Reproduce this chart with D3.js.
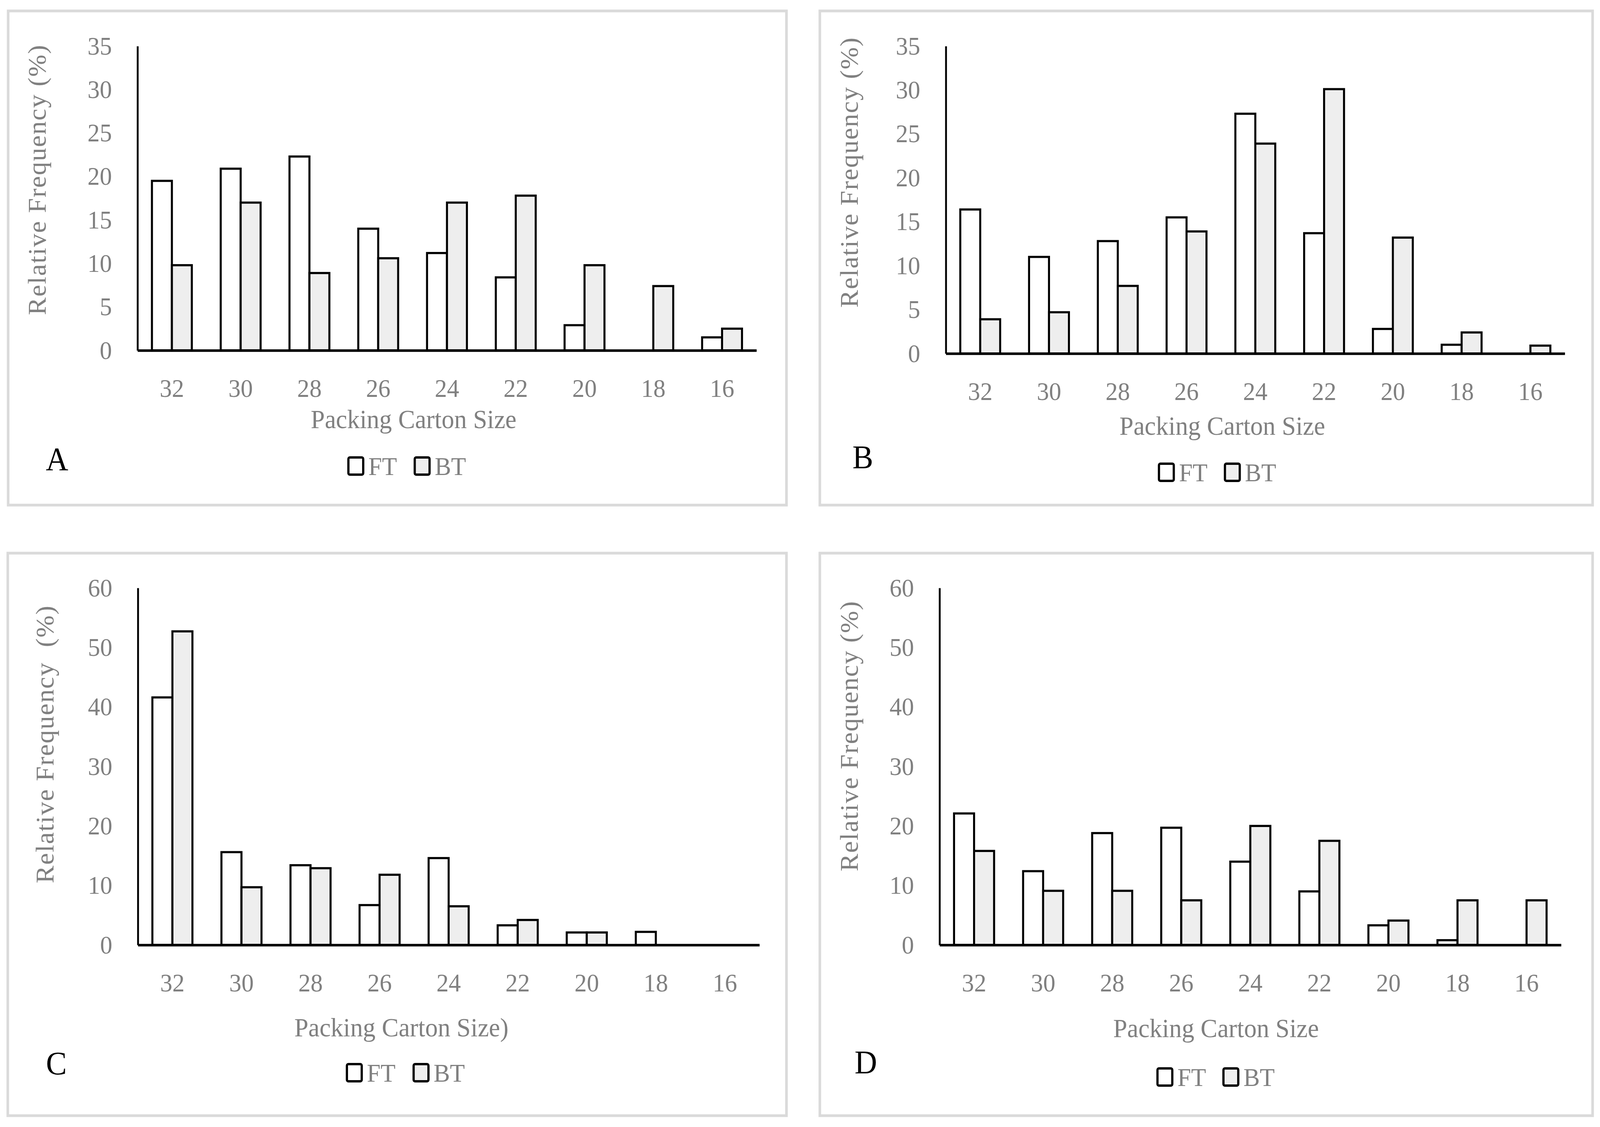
<!DOCTYPE html>
<html>
<head>
<meta charset="utf-8">
<script src="https://cdn.jsdelivr.net/npm/d3@7"></script>
<style>
  html, body { margin: 0; padding: 0; background: #fff; overflow: hidden; }
  svg { display: block; width: 100vw; height: 100vh; }
  text { font-family: "Liberation Serif", "DejaVu Serif", serif; }
</style>
</head>
<body>
<div id="chart"></div>
<script>
// carton sizes on the x axis
var sizes = ["32", "30", "28", "26", "24", "22", "20", "18", "16"];
var seriesNames = ["FT", "BT"];

// relative frequency (%) per panel
var ftA = [19.5, 20.9, 22.3, 14.0, 11.2, 8.4, 2.9, 0, 1.5];
var btA = [9.8, 17.0, 8.9, 10.6, 17.0, 17.8, 9.8, 7.4, 2.5];

var ftB = [16.4, 11.0, 12.8, 15.5, 27.3, 13.7, 2.8, 1.0, 0];
var btB = [3.9, 4.7, 7.7, 13.9, 23.9, 30.1, 13.2, 2.4, 0.9];

var ftC = [41.6, 15.6, 13.4, 6.7, 14.6, 3.3, 2.1, 2.2, 0];
var btC = [52.7, 9.7, 12.9, 11.8, 6.5, 4.2, 2.1, 0, 0];

var ftD = [22.1, 12.4, 18.8, 19.7, 14.0, 9.0, 3.3, 0.8, 0];
var btD = [15.8, 9.1, 9.1, 7.5, 20.0, 17.5, 4.1, 7.5, 7.5];

var ticksAB = [0, 5, 10, 15, 20, 25, 30, 35];
var ticksCD = [0, 10, 20, 30, 40, 50, 60];

var yTitleAB = "Relative Frequency (%)";
var yTitleC = "Relative Frequency  (%)";
var xTitleABD = "Packing Carton Size";
var xTitleC = "Packing Carton Size)";

var W = 4317, H = 2885;
var grey = "#808080";
var fills = { FT: "#ffffff", BT: "#eeeeee" };

var panels = [
  { letter: "A", ft: ftA, bt: btA, ticks: ticksAB, yTitle: yTitleAB, xTitle: xTitleABD,
    box: [22, 28, 2122, 1293], x0: 371, x1: 2041, yTop: 118, yBase: 897,
    yt: [99, 460], xt: [1116, 1076], lt: [154, 1175], lg: [940, 1119, 1193] },
  { letter: "B", ft: ftB, bt: btB, ticks: ticksAB, yTitle: yTitleAB, xTitle: xTitleABD,
    box: [2212, 28, 4297, 1293], x0: 2552, x1: 4222, yTop: 118, yBase: 905,
    yt: [2291, 441], xt: [3298, 1093], lt: [2328, 1170], lg: [3127, 3305, 1209] },
  { letter: "C", ft: ftC, bt: btC, ticks: ticksCD, yTitle: yTitleC, xTitle: xTitleC,
    box: [21, 1416, 2122, 2856], x0: 372, x1: 2049, yTop: 1505, yBase: 2419,
    yt: [121, 1905], xt: [1083, 2633], lt: [152, 2722], lg: [936, 1116, 2746] },
  { letter: "D", ft: ftD, bt: btD, ticks: ticksCD, yTitle: yTitleAB, xTitle: xTitleABD,
    box: [2212, 1416, 4297, 2856], x0: 2535, x1: 4212, yTop: 1505, yBase: 2419,
    yt: [2291, 1884], xt: [3281, 2635], lt: [2336, 2719], lg: [3123, 3301, 2757] }
];

// the drawing is laid out in 4317x2885 units and scaled to the window
var svg = d3.select("#chart").append("svg")
  .attr("viewBox", "0 0 " + W + " " + H)
  .attr("preserveAspectRatio", "none");

svg.append("rect").attr("width", W).attr("height", H).attr("fill", "#fff");

panels.forEach(function(p) {
  var g = svg.append("g");

  // panel frame
  g.append("rect")
    .attr("x", p.box[0]).attr("y", p.box[1])
    .attr("width", p.box[2] - p.box[0]).attr("height", p.box[3] - p.box[1])
    .attr("fill", "none")
    .attr("stroke", "#dadada")
    .attr("stroke-width", 7);

  var x = d3.scaleBand()
    .domain(sizes)
    .range([p.x0, p.x1])
    .paddingInner(0.42)
    .paddingOuter(0.21);

  var xSub = d3.scaleBand()
    .domain(seriesNames)
    .range([0, x.bandwidth()]);

  var y = d3.scaleLinear()
    .domain([0, d3.max(p.ticks)])
    .range([p.yBase, p.yTop]);

  var rows = sizes.map(function(s, i) {
    return { size: s, FT: p.ft[i], BT: p.bt[i] };
  });

  // bars
  var groups = g.append("g").selectAll("g")
    .data(rows)
    .enter().append("g")
    .attr("transform", function(d) { return "translate(" + x(d.size) + ",0)"; });

  groups.selectAll("rect")
    .data(function(d) {
      return seriesNames
        .map(function(k) { return { key: k, value: d[k] }; })
        .filter(function(e) { return e.value > 0; });
    })
    .enter().append("rect")
    .attr("x", function(d) { return xSub(d.key); })
    .attr("width", xSub.bandwidth())
    .attr("y", function(d) { return y(d.value); })
    .attr("height", function(d) { return y(0) - y(d.value); })
    .attr("fill", function(d) { return fills[d.key]; })
    .attr("stroke", "#000")
    .attr("stroke-width", 5.5);

  // y axis
  var yAxis = g.append("g")
    .attr("transform", "translate(" + p.x0 + ",0)")
    .call(d3.axisLeft(y).tickValues(p.ticks).tickSize(0).tickPadding(69));
  yAxis.select(".domain").attr("stroke", "#000").attr("stroke-width", 5);
  yAxis.selectAll("text")
    .attr("fill", grey)
    .style("font-size", "66px")
    .style("font-family", "Liberation Serif, serif");

  // x axis
  var xAxis = g.append("g")
    .attr("transform", "translate(0," + p.yBase + ")")
    .call(d3.axisBottom(x).tickSize(0).tickPadding(72));
  xAxis.select(".domain").attr("stroke", "#000").attr("stroke-width", 6.5);
  xAxis.selectAll("text")
    .attr("fill", grey)
    .style("font-size", "66px")
    .style("font-family", "Liberation Serif, serif");

  // axis titles
  g.append("text")
    .attr("transform", "translate(" + p.yt[0] + "," + p.yt[1] + ") rotate(-90)")
    .attr("text-anchor", "middle")
    .attr("dy", "0.35em")
    .attr("fill", grey)
    .style("font-size", "68px")
    .style("letter-spacing", "2px")
    .style("white-space", "pre")
    .text(p.yTitle);

  g.append("text")
    .attr("x", p.xt[0]).attr("y", p.xt[1])
    .attr("text-anchor", "middle")
    .attr("dy", "0.3em")
    .attr("fill", grey)
    .style("font-size", "68px")
    .text(p.xTitle);

  // panel letter
  g.append("text")
    .attr("x", p.lt[0]).attr("y", p.lt[1])
    .attr("text-anchor", "middle")
    .attr("dy", "0.35em")
    .attr("fill", "#000")
    .style("font-size", "84px")
    .text(p.letter);

  // legend
  var lgX = [p.lg[0], p.lg[1]];
  seriesNames.forEach(function(k, i) {
    g.append("rect")
      .attr("x", lgX[i]).attr("y", p.lg[2] - 22)
      .attr("width", 40).attr("height", 44)
      .attr("rx", 4)
      .attr("fill", fills[k])
      .attr("stroke", "#000")
      .attr("stroke-width", 6);
    g.append("text")
      .attr("x", lgX[i] + 54).attr("y", p.lg[2])
      .attr("dy", "0.35em")
      .attr("fill", grey)
      .style("font-size", "66px")
      .text(k);
  });
});
</script>
</body>
</html>
